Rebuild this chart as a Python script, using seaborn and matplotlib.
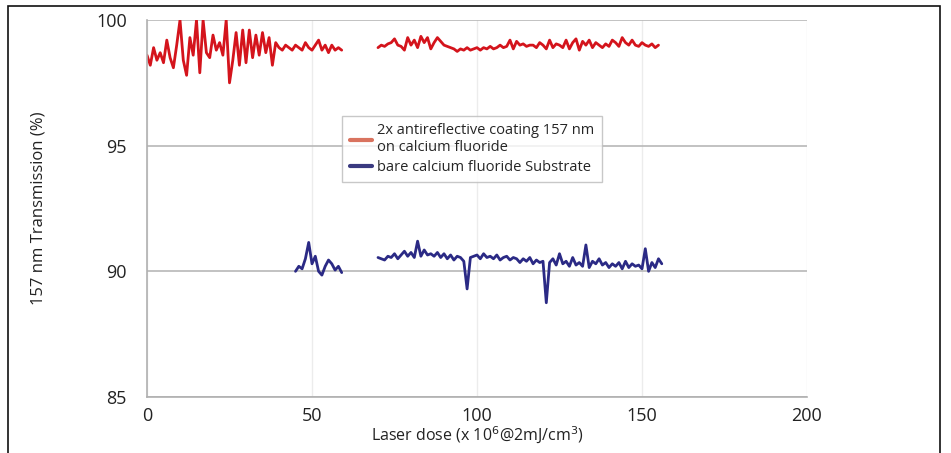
import numpy as np
import pandas as pd
import matplotlib.pyplot as plt
import seaborn as sns
from matplotlib.patches import Rectangle

# laser dose (x 10^6 @ 2mJ/cm2) and transmission (%)
red_dose_1 = list(range(0, 60))
red_trans_1 = [98.6, 98.2, 98.9, 98.4, 98.7, 98.3, 99.2, 98.5, 98.1, 99.0,
               100.0, 98.4, 97.8, 99.3, 98.6, 100.0, 97.9, 100.0, 98.7, 98.5,
               99.4, 98.8, 99.1, 98.6, 100.0, 97.5, 98.4, 99.5, 98.2, 99.6,
               98.3, 99.6, 98.5, 99.4, 98.6, 99.5, 98.7, 99.3, 98.2, 99.1,
               98.9, 98.8, 99.0, 98.9, 98.8, 99.0, 98.9, 98.8, 99.1, 98.9,
               98.8, 99.0, 99.2, 98.8, 99.0, 98.7, 99.0, 98.8, 98.9, 98.8]
red_dose_2 = list(range(70, 156))
red_trans_2 = [98.9, 99.0, 98.95, 99.05, 99.1, 99.25, 99.0, 98.95, 98.8, 99.3,
               99.0, 99.2, 98.9, 99.35, 99.1, 99.3, 98.85, 99.1, 99.3, 99.15,
               99.0, 98.95, 98.9, 98.85, 98.75, 98.85, 98.8, 98.9, 98.8, 98.85,
               98.9, 98.8, 98.9, 98.85, 98.95, 98.85, 98.9, 99.0, 98.9, 98.95,
               99.2, 98.85, 99.15, 99.0, 99.05, 98.95, 99.0, 99.0, 98.9, 99.1,
               99.0, 98.85, 99.2, 98.9, 99.05, 99.0, 98.9, 99.2, 98.85, 99.1,
               99.25, 98.8, 99.15, 99.0, 99.2, 98.9, 99.1, 99.0, 98.9, 99.05,
               98.95, 99.2, 99.1, 98.95, 99.3, 99.1, 99.0, 99.2, 99.0, 98.95,
               99.1, 99.0, 98.95, 99.05, 98.9, 99.0]

blue_dose_1 = list(range(45, 60))
blue_trans_1 = [90.0, 90.2, 90.1, 90.5, 91.15, 90.3, 90.6, 90.0, 89.85, 90.2,
                90.45, 90.3, 90.05, 90.2, 89.95]
blue_dose_2 = list(range(70, 157))
blue_trans_2 = [90.55, 90.5, 90.45, 90.6, 90.55, 90.7, 90.5, 90.65, 90.8, 90.6,
                90.75, 90.55, 91.2, 90.6, 90.85, 90.65, 90.7, 90.6, 90.75, 90.55,
                90.7, 90.5, 90.65, 90.45, 90.6, 90.55, 90.4, 89.3, 90.55, 90.6,
                90.65, 90.5, 90.7, 90.55, 90.6, 90.5, 90.65, 90.45, 90.55, 90.6,
                90.45, 90.55, 90.5, 90.35, 90.5, 90.4, 90.55, 90.3, 90.45, 90.35,
                90.4, 88.75, 90.35, 90.5, 90.25, 90.7, 90.3, 90.4, 90.2, 90.55,
                90.25, 90.35, 90.2, 91.05, 90.15, 90.4, 90.3, 90.5, 90.25, 90.35,
                90.15, 90.3, 90.2, 90.35, 90.1, 90.4, 90.15, 90.3, 90.2, 90.25,
                90.1, 90.9, 90.0, 90.35, 90.15, 90.5, 90.3]

red_name = "2x antireflective coating 157 nm\non calcium fluoride"
blue_name = "bare calcium fluoride Substrate"

parts = []
for name, seg, dose, trans in [(red_name, 1, red_dose_1, red_trans_1),
                               (red_name, 2, red_dose_2, red_trans_2),
                               (blue_name, 3, blue_dose_1, blue_trans_1),
                               (blue_name, 4, blue_dose_2, blue_trans_2)]:
    parts.append(pd.DataFrame({"dose": dose, "trans": trans,
                               "series": name, "seg": seg}))
df = pd.concat(parts, ignore_index=True)

sns.set_style("white")
plt.rcParams['font.family'] = ['Open Sans', 'DejaVu Sans']

fig = plt.figure(figsize=(9.51, 4.53), dpi=100)
ax = fig.add_axes([147 / 951, 1 - 397 / 453, 660 / 951, 377 / 453])

sns.lineplot(data=df, x="dose", y="trans", hue="series", units="seg",
             estimator=None, palette={red_name: "#d4141c", blue_name: "#2b2a85"},
             linewidth=2.0, ax=ax)

ax.set_xlim(0, 200)
ax.set_ylim(85, 100)
ax.set_xticks([0, 50, 100, 150, 200])
ax.set_yticks([85, 90, 95, 100])
ax.grid(axis="y", color="#b8b8b8", linewidth=1.2)
ax.grid(axis="x", color="#ececec", linewidth=1.0)
ax.set_axisbelow(True)
for s in ["top", "right"]:
    ax.spines[s].set_visible(False)
for s in ["left", "bottom"]:
    ax.spines[s].set_color("#b0b0b0")
    ax.spines[s].set_linewidth(1.2)
ax.tick_params(axis="both", direction="inout", length=5, color="#b0b0b0",
               labelsize=13, labelcolor="#222222")
ax.tick_params(axis="y", pad=12)
ax.tick_params(axis="x", pad=5)
ax.set_xlabel("Laser dose (x 10$^6$@2mJ/cm$^3$)", fontsize=11.5, color="#222222",
              labelpad=0)
ax.set_ylabel("157 nm Transmission (%)", fontsize=12, color="#222222",
              labelpad=36)

leg = ax.legend(loc="upper left", bbox_to_anchor=(0.285, 0.765), fontsize=10.5,
                frameon=True, fancybox=False, handlelength=1.5,
                handletextpad=0.4, borderpad=0.5, labelspacing=0.3)
leg.get_frame().set_edgecolor("#bbbbbb")
leg.get_frame().set_linewidth(1.0)
handles = leg.legend_handles if hasattr(leg, "legend_handles") else leg.legendHandles
handles[0].set_color("#d9735f")
handles[1].set_color("#3a3a80")
for h in handles:
    h.set_linewidth(3)

fig.patches.append(Rectangle((8 / 951, -0.05), 932 / 951, 1 - 6 / 453 + 0.05,
                             transform=fig.transFigure, fill=False,
                             edgecolor="#111111", linewidth=1.2))

fig.savefig("out.png", dpi=100)
